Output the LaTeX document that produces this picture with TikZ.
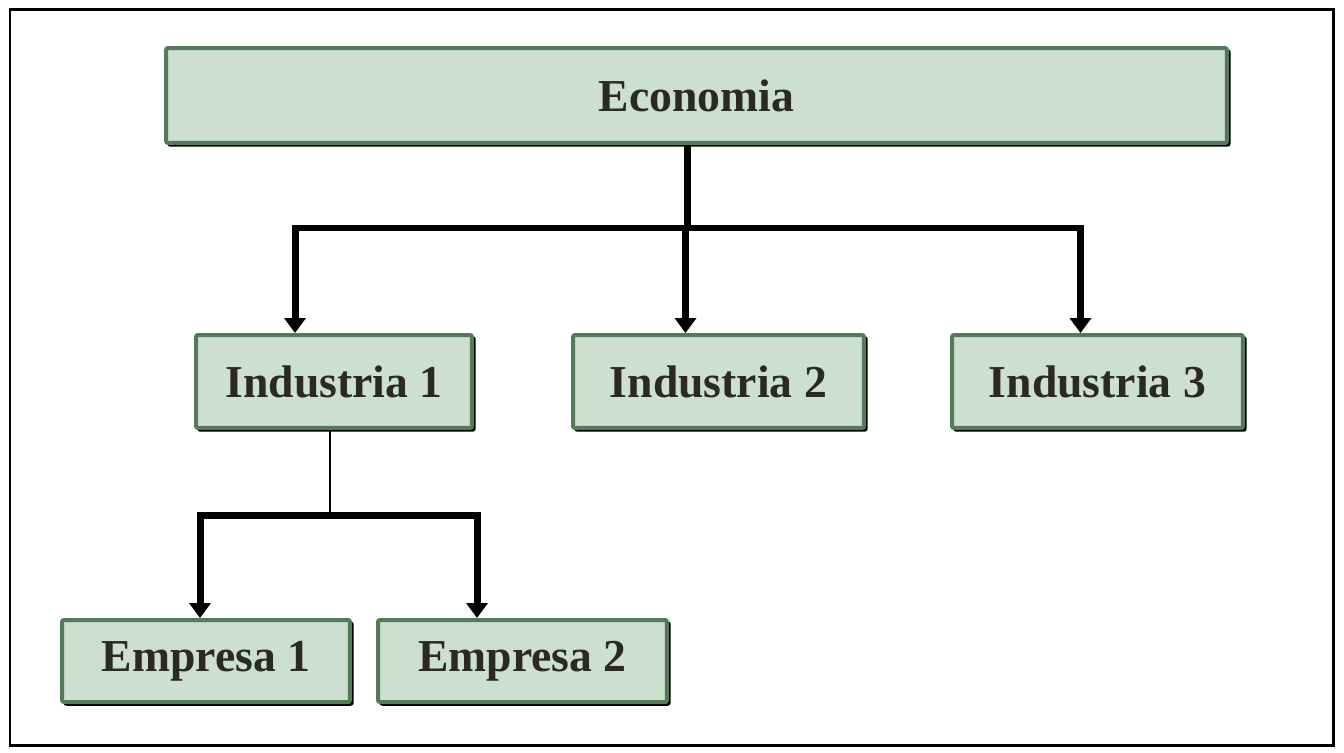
\documentclass[tikz,border=0pt]{standalone}
\usepackage{fontspec}
\setmainfont{Liberation Serif}
\usetikzlibrary{arrows.meta,positioning,calc}
\definecolor{boxfill}{HTML}{CDDFCF}
\definecolor{boxline}{HTML}{557A58}
\definecolor{boxtext}{HTML}{2A2A1F}
\tikzset{box/.style={
            draw=boxline,
            fill=boxfill,
            line width=0.08cm,
            rounded corners=0.04cm,
            inner sep=0pt,
            minimum height=1.86cm,
            text=boxtext,
            font=\fontsize{26}{30}\selectfont\bfseries,
            preaction={draw=black,line width=0.05cm,sharp corners,
                transform canvas={shift={(0.05cm,-0.05cm)}}},
            anchor=center
        },
        conn/.style={
            line width=0.14cm,
            line join=miter
        },
        thinconn/.style={
            line width=0.04cm
        }
    }

\begin{document}
\begin{tikzpicture}
        [x=0.02cm,y=-0.02cm,>={Triangle[width=0.42cm,length=0.3cm]}]

        \useasboundingbox (0,0) rectangle (1344,753);
        \draw[line width=0.06cm] (10,10) rectangle (1333,745);

        \node[box,minimum width=21.22cm,minimum height=1.9cm] (eco) at (696.5,95.5) {Economia};
        \node[box,minimum width=5.52cm] (ind1) at (334,381.5) {Industria 1};
        \node[box,minimum width=5.82cm] (ind2) at (718.5,381.5) {Industria 2};
        \node[box,minimum width=5.82cm] (ind3) at (1097.5,381.5) {Industria 3};
        \node[box,minimum width=5.76cm,minimum height=1.64cm] (emp1) at (206,661) {Empresa 1};
        \node[box,minimum width=5.78cm,minimum height=1.64cm] (emp2) at (522.5,661) {Empresa 2};

        % economia -> industrias
        \coordinate (bus) at (687,228);
        \draw[conn] (eco.south -| bus) -- (bus);
        \draw[conn,->] (bus) -| ([xshift=-0.78cm]ind1.north);
        \draw[conn,->] (bus) -| ([xshift=-0.34cm]ind3.north);
        \draw[conn,->] ([xshift=-0.66cm]ind2.north |- bus) -- ([xshift=-0.66cm]ind2.north);

        % industria 1 -> empresas
        \coordinate (sub) at (330,515);
        \draw[thinconn] (ind1.south -| sub) -- (sub);
        \draw[conn,->] (sub) -| ([xshift=-0.12cm]emp1.north);
        \draw[conn,->] (sub) -| ([xshift=-0.91cm]emp2.north);

    \end{tikzpicture}
\end{document}
